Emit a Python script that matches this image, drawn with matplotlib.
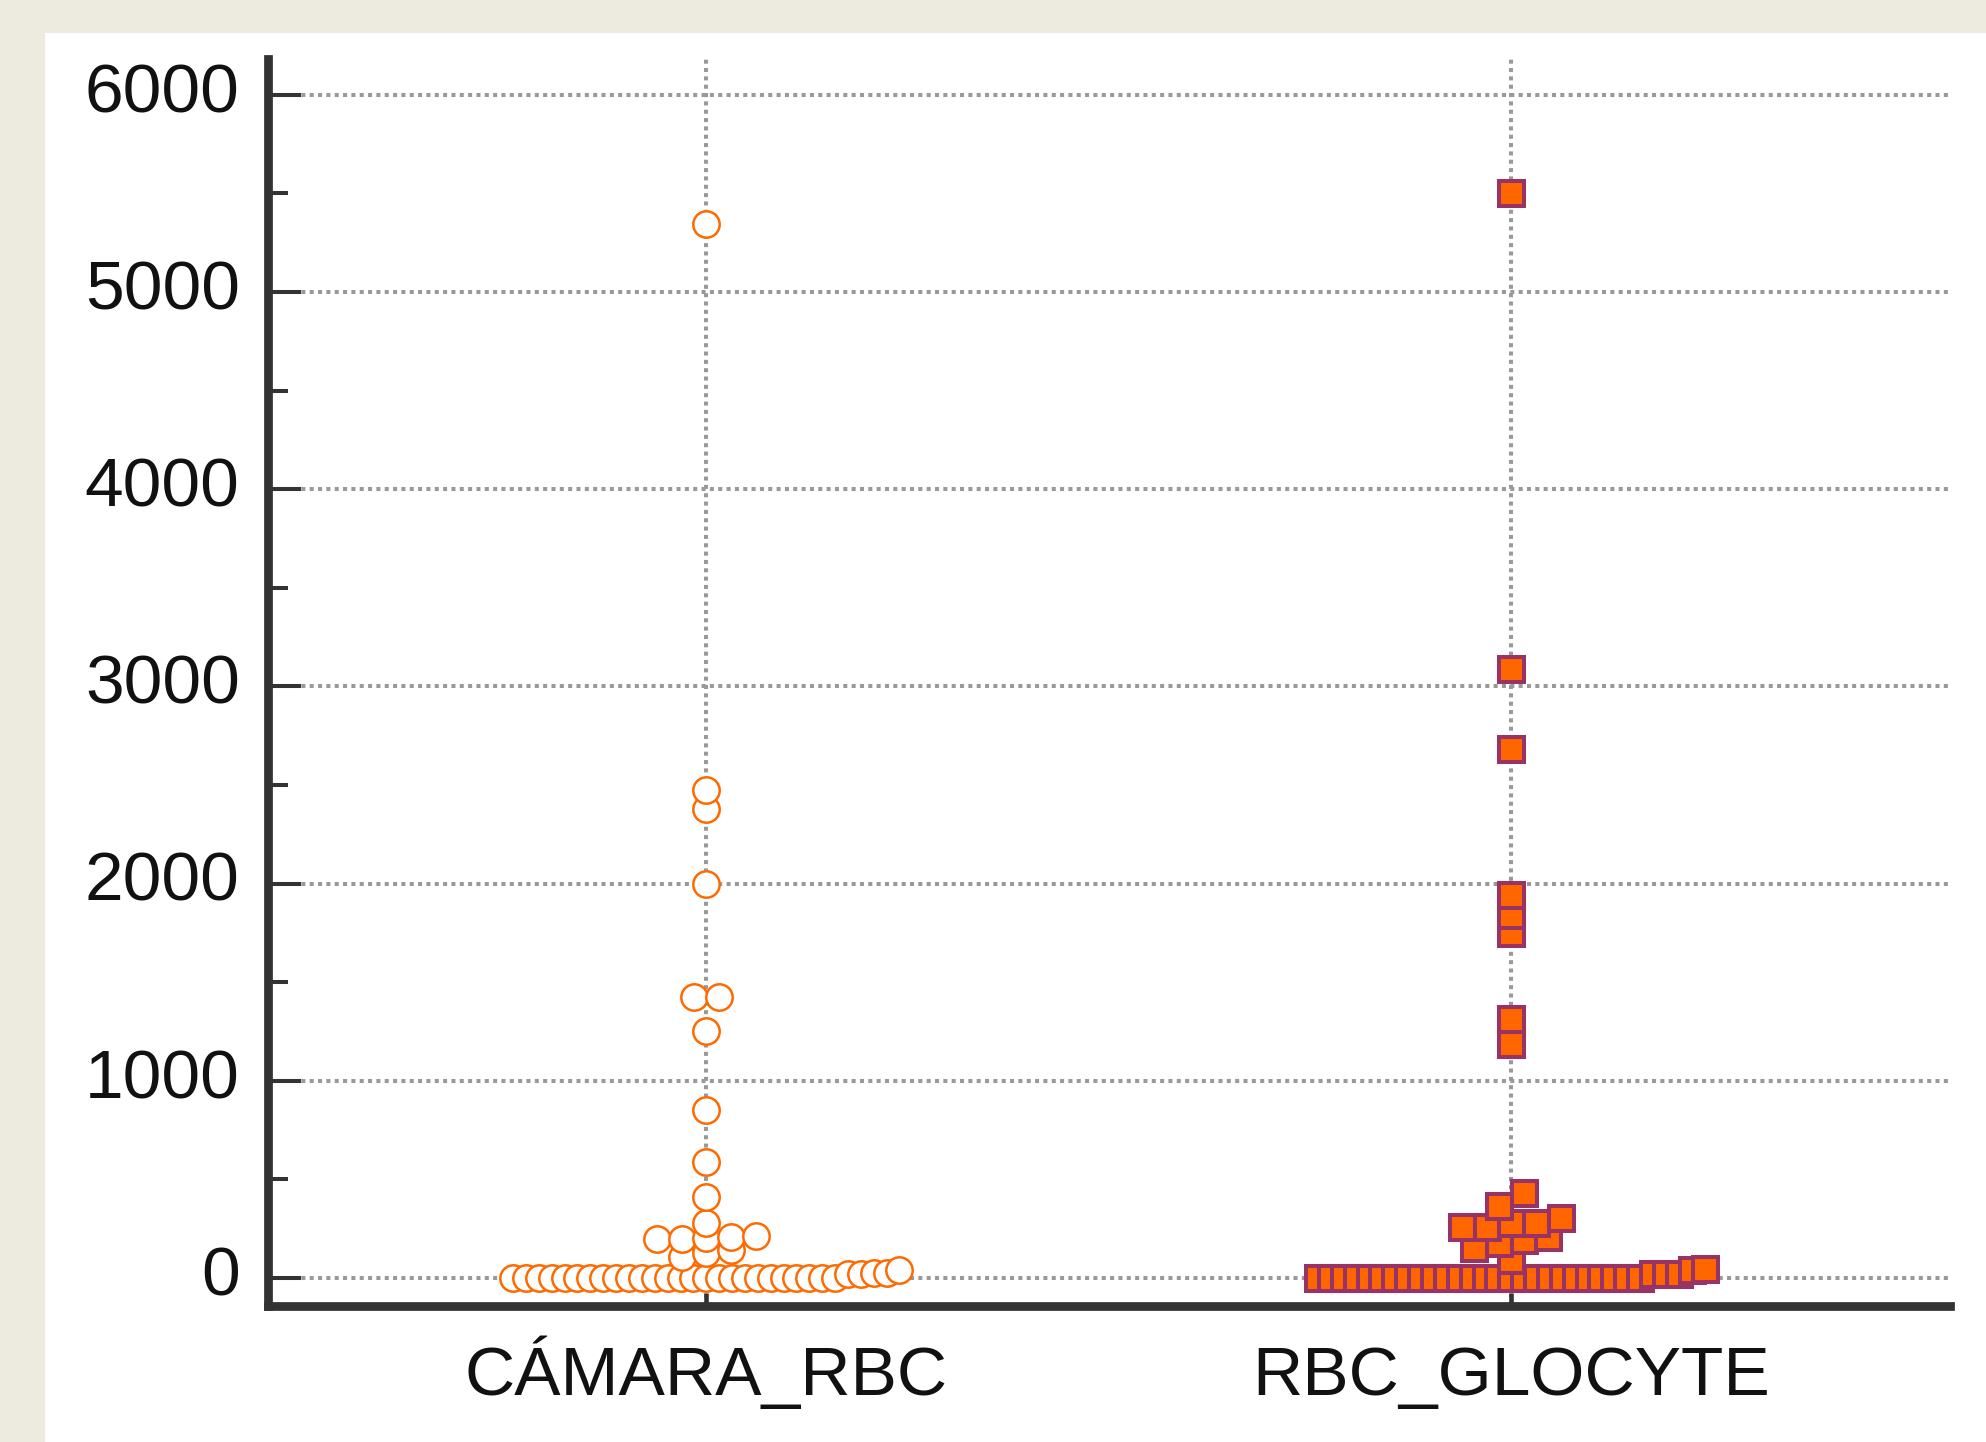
import numpy as np
import matplotlib
matplotlib.use('Agg')
import matplotlib.pyplot as plt
from matplotlib.patches import Rectangle
from matplotlib.ticker import MultipleLocator
from matplotlib.transforms import ScaledTranslation

# dados (dot plot)
categorias = ['CÁMARA_RBC', 'RBC_GLOCYTE']

camara_rbc = [0, 0, 0, 0, 0, 0, 0, 0, 0, 0, 0, 0, 0, 0, 0, 0, 0, 0, 0, 0, 0, 0, 0, 0, 0, 0,
              20, 20, 25, 25, 40,
              106, 127, 142, 198, 198, 205, 208, 213, 279, 410, 590, 850,
              1252, 1427, 1427, 2000, 2380, 2475, 5345]

rbc_glocyte = [0, 0, 0, 0, 0, 0, 0, 0, 0, 0, 0, 0, 0, 0, 0, 0, 0, 0, 0, 0, 0, 0, 0, 0, 0, 0,
               20, 20, 22, 40, 45,
               91, 152, 177, 193, 210, 260, 260, 279, 280, 303, 365, 430,
               1185, 1315, 1748, 1839, 1944, 2682, 3087, 5500]

yticks = [0, 1000, 2000, 3000, 4000, 5000, 6000]


def espalhar(valores, centro, passo=0.0307, largura=0.48, faixa=100):
    # pontos na mesma faixa de valor ficam lado a lado, ordenados da esquerda pra direita
    v = np.sort(np.asarray(valores, dtype=float))
    x = np.empty_like(v)
    caixas = np.floor((v + faixa / 2) / faixa)
    for c in np.unique(caixas):
        idx = np.where(caixas == c)[0]
        n = len(idx)
        d = passo if n < 2 else min(passo, largura / (n - 1))
        x[idx] = centro + (np.arange(n) - (n - 1) / 2) * d
    return x, v


plt.rcParams['font.family'] = ['Liberation Sans', 'DejaVu Sans']

fig = plt.figure(figsize=(19.86, 14.42), dpi=100, facecolor='#EDEBE0')
fig.add_artist(Rectangle((0.0227, 0), 1 - 0.0227, 0.977, transform=fig.transFigure,
                         facecolor='white', edgecolor='none', zorder=0))

ax = fig.add_axes([0.1347, 0.0943, 0.9819 - 0.1347, 0.9591 - 0.0943])
ax.set_facecolor('none')

x1, y1 = espalhar(camara_rbc, 0)
ax.plot(x1, y1, 'o', linestyle='none', ms=19, mfc='white', mec='#FF6A00', mew=1.8, zorder=3)

x2, y2 = espalhar(rbc_glocyte, 1)
ax.plot(x2, y2, 's', linestyle='none', ms=18, mfc='#FF6600', mec='#993366', mew=2.9, zorder=3)

ax.set_xlim(-0.545, 1.545)
ax.set_ylim(-142, 6182)
ax.set_xticks([0, 1])
ax.set_xticklabels(categorias)
ax.set_yticks(yticks)
ax.yaxis.set_minor_locator(MultipleLocator(500))

ax.grid(True, which='major', color='#999999', linewidth=2.9, linestyle=(0, (1.0, 1.07)))
ax.set_axisbelow(True)

for lado in ['top', 'right']:
    ax.spines[lado].set_visible(False)
for lado in ['left', 'bottom']:
    ax.spines[lado].set_linewidth(6.3)
    ax.spines[lado].set_color('#333333')

ax.tick_params(axis='y', which='major', direction='in', length=24, width=2.9,
               color='#333333', pad=20, labelsize=50, labelcolor='#111111')
ax.tick_params(axis='y', which='minor', direction='in', length=14.5, width=2.9, color='#333333')
ax.tick_params(axis='x', which='major', direction='in', length=9.5, width=3.3,
               color='#333333', pad=64, labelsize=50, labelcolor='#111111')

# rotulos do eixo y um pouco acima da marca, rotulos do x na mesma linha de base
sobe = ScaledTranslation(0, 5.5 / 72, fig.dpi_scale_trans)
for lbl in ax.get_yticklabels():
    lbl.set_transform(lbl.get_transform() + sobe)
for lbl in ax.get_xticklabels():
    lbl.set_verticalalignment('baseline')

fig.savefig('out.png', dpi=100, facecolor=fig.get_facecolor())
